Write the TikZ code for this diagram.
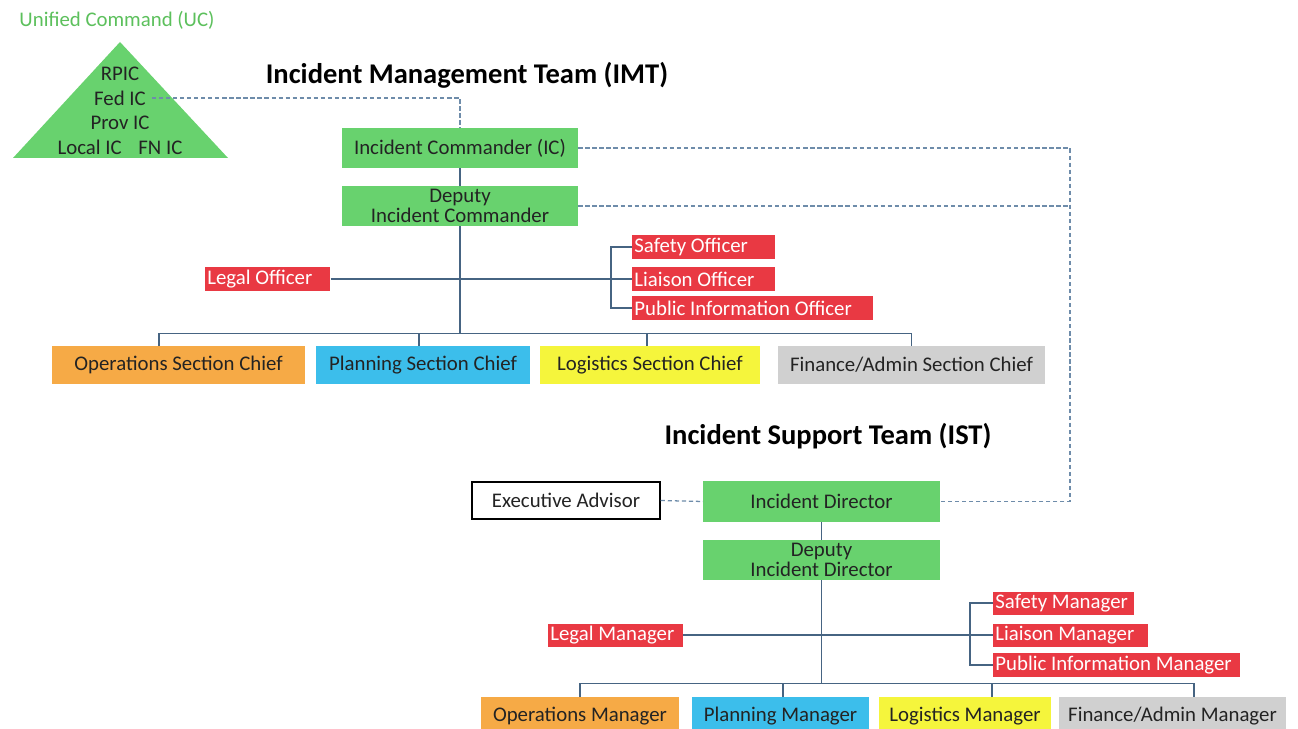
\documentclass[tikz,border=0pt]{standalone}
\usepackage{fontspec}
\setmainfont{Carlito}
\usepackage{xcolor}
\usepackage{tikz}

\begin{document}
\begin{tikzpicture}[
    x=0.025cm, y=-0.025cm,
    greenbox/.style={fill=boxgreen, text=textdark, minimum width=5.9cm, minimum height=1cm, align=center, inner sep=0pt},
    redbox/.style={fill=offred, text=white, anchor=west, align=flush left, minimum height=0.575cm, inner ysep=0pt, inner xsep=1.5pt},
    secbox/.style={text=textdark, minimum height=0.925cm, inner sep=0pt},
    teamtitle/.style={font=\fontsize{20.3}{24}\selectfont\bfseries, text=black},
    solidlink/.style={draw=linkblue, line width=1pt},
    dashlink/.style={draw=dashblue, line width=0.9pt, dash pattern=on 3pt off 2pt},
    every node/.style={font=\fontsize{14.8}{14}\selectfont}
]

% Colors
\definecolor{boxgreen}{RGB}{104,210,110}
\definecolor{ucgreen}{RGB}{92,192,92}
\definecolor{offred}{RGB}{233,57,67}
\definecolor{opsorange}{RGB}{246,170,70}
\definecolor{planblue}{RGB}{60,190,235}
\definecolor{logyellow}{RGB}{245,245,60}
\definecolor{fingray}{RGB}{208,208,208}
\definecolor{textdark}{RGB}{35,35,35}
\definecolor{linkblue}{RGB}{70,100,130}
\definecolor{dashblue}{RGB}{110,140,170}

\fill[white] (0,0) rectangle (1298,729);
\useasboundingbox (0,0) rectangle (1298,729);

% Unified Command
\node[text=ucgreen] (uctitle) at (117,20) {Unified Command (UC)};
\fill[boxgreen] (13,158) -- (120,42) -- (228,158) -- cycle;
\node[align=center, text=textdark, font=\fontsize{14.8}{17.5}\selectfont] (uc) at (120,111)
{RPIC\\Fed IC\\Prov IC\\Local IC\hspace{0.8em}FN IC};
\coordinate (fedic) at (152,98);

% Incident Management Team
\node[teamtitle] (imt) at (467,75) {Incident Management Team (IMT)};

\node[greenbox] (ic) at (460,148) {Incident Commander (IC)};
\node[greenbox] (dic) at (460,206) {Deputy\\Incident Commander};

\node[redbox, text width=3.02cm] (legal) at (205,279) {Legal Officer};
\node[redbox, text width=3.47cm] (safety) at (632,247) {Safety Officer};
\node[redbox, text width=3.47cm] (liaison) at (632,279) {Liaison Officer};
\node[redbox, text width=5.92cm, minimum height=0.6cm] (pio) at (632,308) {Public Information Officer};

\node[secbox, fill=opsorange, minimum width=6.325cm] (ops) at (178.5,365) {Operations Section Chief};
\node[secbox, fill=planblue, minimum width=5.35cm] (plan) at (423,365) {Planning Section Chief};
\node[secbox, fill=logyellow, minimum width=5.5cm] (log) at (650,365) {Logistics Section Chief};
\node[secbox, fill=fingray, minimum width=6.675cm] (fin) at (911.5,365) {Finance/Admin Section Chief};

\coordinate (imtbus) at (460,334);

% Incident Support Team
\node[teamtitle] (ist) at (828,436) {Incident Support Team (IST)};

\node[draw=black, line width=1pt, fill=white, text=textdark, minimum width=4.7cm, minimum height=0.925cm] (exec) at (566,500.5) {Executive Advisor};
\node[greenbox] (id) at (821.5,501.5) {Incident Director};
\node[greenbox] (did) at (821.5,560) {Deputy\\Incident Director};

\node[redbox, text width=3.25cm] (legalm) at (548,635) {Legal Manager};
\node[redbox, text width=3.42cm] (safetym) at (993,603) {Safety Manager};
\node[redbox, text width=3.76cm] (liaisonm) at (993,635) {Liaison Manager};
\node[redbox, text width=6.05cm, minimum height=0.6cm] (pim) at (993,665) {Public Information Manager};

\node[secbox, fill=opsorange, minimum width=4.95cm] (opsm) at (580,716) {Operations Manager};
\node[secbox, fill=planblue, minimum width=4.425cm] (planm) at (780.5,716) {Planning Manager};
\node[secbox, fill=logyellow, minimum width=4.3cm] (logm) at (965,716) {Logistics Manager};
\node[secbox, fill=fingray, minimum width=5.675cm] (finm) at (1172.5,716) {Finance/Admin Manager};

\coordinate (istbus) at (821.5,684);
\coordinate (linktop) at (1070,148);

% Solid links
\draw[solidlink] (ic.south) -- (dic.north);
\draw[solidlink] (dic.south) -- (imtbus);
\draw[solidlink] (legal.east) -- (legal.east -| liaison.west);
\draw[solidlink] (safety.west) -- ++(-21,0) |- (pio.west);
\draw[solidlink] ([xshift=-0.49cm]ops.north) -- ++(0,-13) -| (fin.north);
\draw[solidlink] ([xshift=-0.1cm]plan.north) -- ++(0,-13);
\draw[solidlink] ([xshift=-0.075cm]log.north) -- ++(0,-13);

\draw[solidlink] (id.south) -- (did.north);
\draw[solidlink] (did.south) -- (istbus);
\draw[solidlink] (legalm.east) -- (legalm.east -| liaisonm.west);
\draw[solidlink] (safetym.west) -- ++(-23,0) |- (pim.west);
\draw[solidlink] (opsm.north) -- ++(0,-14) -| ([xshift=0.54cm]finm.north);
\draw[solidlink] ([xshift=0.06cm]planm.north) -- ++(0,-14);
\draw[solidlink] ([xshift=0.675cm]logm.north) -- ++(0,-14);

% Dashed links
\draw[dashlink] (fedic) -| (ic.north);
\draw[dashlink] (ic.east) -- (linktop) |- (id.east);
\draw[dashlink] (dic.east) -- (dic.east -| linktop);
\draw[dashlink] (exec.east) -- (id.west);

\end{tikzpicture}
\end{document}
